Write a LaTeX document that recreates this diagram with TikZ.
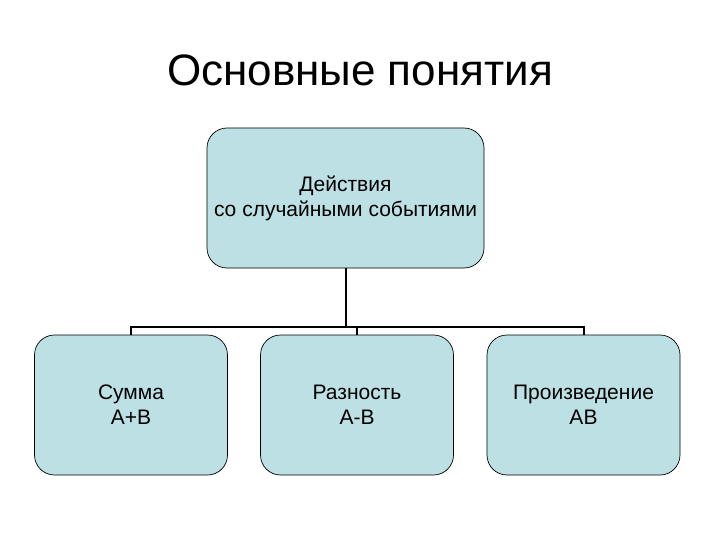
\documentclass[tikz,border=0pt]{standalone}
\usepackage{fontspec}
\setmainfont{Liberation Sans}
\definecolor{boxfill}{RGB}{189,224,228}
\begin{document}
\begin{tikzpicture}[x=1pt,y=-1pt,
  box/.style={draw=black,line width=0.7pt,fill=boxfill,rounded corners=20pt,inner sep=0pt,align=center,font=\fontsize{21}{25}\selectfont},
  conn/.style={draw=black,line width=2pt}]
\useasboundingbox (0,0) rectangle (720,540);
\node[font=\fontsize{44}{50}\selectfont] (title) at (360,70) {Основные понятия};
\node[box,minimum width=277pt,minimum height=140pt] (top) at (345.5,198) {Действия\\со случайными событиями};
\node[box,minimum width=193pt,minimum height=140pt] (a) at (131,405) {Сумма\\A+B};
\node[box,minimum width=193pt,minimum height=140pt] (b) at (357,405) {Разность\\A-B};
\node[box,minimum width=193pt,minimum height=140pt] (c) at (583.5,405) {Произведение\\AB};
\coordinate (hub) at (top.south |- 0,327);
\coordinate (ha) at (a.north |- 0,327);
\coordinate (hc) at (c.north |- 0,327);
\draw[conn] (top.south) -- (hub);
\draw[conn] (a.north) -- (ha) -- (hc) -- (c.north);
\draw[conn] (b.north) -- (b.north |- hub);
\end{tikzpicture}
\end{document}
